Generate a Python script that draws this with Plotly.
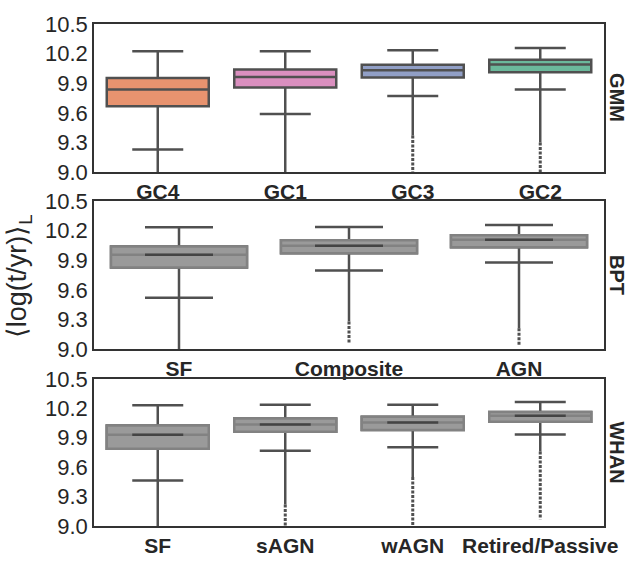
import plotly.graph_objects as go

# ---------------- data ----------------
gmm_cats = ["GC4", "GC1", "GC3", "GC2"]
gmm_colors = ["#E8936F", "#DA8FBF", "#919FC6", "#6BB89B"]
gmm_lowf = [9.228, 9.589, 9.771, 9.836]
gmm_q1 = [9.667, 9.856, 9.957, 10.012]
gmm_med = [9.836, 9.963, 10.031, 10.090]
gmm_q3 = [9.953, 10.038, 10.087, 10.139]
gmm_upf = [10.223, 10.223, 10.233, 10.256]
gmm_dense_min = [9.0, 9.0, 9.37, 9.30]
gmm_sparse_min = [9.0, 9.0, 9.0, 9.0]

bpt_cats = ["SF", "Composite", "AGN"]
bpt_lowf = [9.519, 9.795, 9.877]
bpt_q1 = [9.825, 9.971, 10.032]
bpt_med = [9.955, 10.045, 10.107]
bpt_q3 = [10.039, 10.101, 10.153]
bpt_upf = [10.234, 10.237, 10.256]
bpt_dense_min = [9.0, 9.28, 9.21]
bpt_sparse_min = [9.0, 9.05, 9.04]

whan_cats = ["SF", "sAGN", "wAGN", "Retired/Passive"]
whan_lowf = [9.463, 9.768, 9.804, 9.932]
whan_q1 = [9.788, 9.962, 9.978, 10.063]
whan_med = [9.929, 10.034, 10.054, 10.123]
whan_q3 = [10.024, 10.096, 10.113, 10.162]
whan_upf = [10.231, 10.237, 10.237, 10.264]
whan_dense_min = [9.0, 9.22, 9.50, 9.76]
whan_sparse_min = [9.0, 9.0, 9.0, 9.07]

y_ticks = [9.0, 9.3, 9.6, 9.9, 10.2, 10.5]
panel_labels = ["GMM", "BPT", "WHAN"]

# ---------------- styling ----------------
LINE = "#505050"
GRAY_FILL = "#9a9a9a"
GRAY_EDGE = "#828282"
TXT = "#262626"
FONT = "Liberation Sans, Arial, sans-serif"

fig = go.Figure()


def add_fliers(n, lowf, dmin, smin, xa, ya):
    for i in range(n):
        fig.add_trace(go.Scatter(x=[i, i], y=[lowf[i], dmin[i]], mode="lines",
                                 line=dict(color=LINE, width=2.5), xaxis=xa, yaxis=ya,
                                 showlegend=False, hoverinfo="skip"))
        if smin[i] < dmin[i]:
            fig.add_trace(go.Scatter(x=[i, i], y=[dmin[i], smin[i]], mode="lines",
                                     line=dict(color=LINE, width=3, dash="3px,1.5px"),
                                     xaxis=xa, yaxis=ya, showlegend=False,
                                     hoverinfo="skip"))


# GMM panel (colored)
add_fliers(len(gmm_cats), gmm_lowf, gmm_dense_min, gmm_sparse_min, "x", "y")
for i in range(len(gmm_cats)):
    fig.add_trace(go.Box(x=[i], q1=[gmm_q1[i]], median=[gmm_med[i]], q3=[gmm_q3[i]],
                         lowerfence=[gmm_lowf[i]], upperfence=[gmm_upf[i]],
                         width=0.8, whiskerwidth=0.5, fillcolor=gmm_colors[i],
                         line=dict(color=LINE, width=2.5), boxpoints=False,
                         xaxis="x", yaxis="y", showlegend=False, hoverinfo="skip"))


def gray_panel(cats, lowf, q1, med, q3, upf, dmin, smin, xa, ya):
    n = len(cats)
    add_fliers(n, lowf, dmin, smin, xa, ya)
    for i in range(n):
        fig.add_trace(go.Box(x=[i], q1=[q1[i]], median=[med[i]], q3=[q3[i]],
                             lowerfence=[lowf[i]], upperfence=[upf[i]],
                             width=0.8, whiskerwidth=0.5, fillcolor=GRAY_FILL,
                             line=dict(color=LINE, width=2.5), boxpoints=False,
                             xaxis=xa, yaxis=ya, showlegend=False, hoverinfo="skip"))
        # lighter box edge on top (no whiskers)
        fig.add_trace(go.Box(x=[i], q1=[q1[i]], median=[med[i]], q3=[q3[i]],
                             lowerfence=[q1[i]], upperfence=[q3[i]],
                             width=0.8, whiskerwidth=0, fillcolor=GRAY_FILL,
                             line=dict(color=GRAY_EDGE, width=2.5), boxpoints=False,
                             xaxis=xa, yaxis=ya, showlegend=False, hoverinfo="skip"))
        fig.add_trace(go.Scatter(x=[i - 0.2, i + 0.2], y=[med[i], med[i]], mode="lines",
                                 line=dict(color="#444444", width=2.5),
                                 xaxis=xa, yaxis=ya, showlegend=False,
                                 hoverinfo="skip"))


gray_panel(bpt_cats, bpt_lowf, bpt_q1, bpt_med, bpt_q3, bpt_upf,
           bpt_dense_min, bpt_sparse_min, "x2", "y2")
gray_panel(whan_cats, whan_lowf, whan_q1, whan_med, whan_q3, whan_upf,
           whan_dense_min, whan_sparse_min, "x3", "y3")

# ---------------- layout ----------------
W, H = 630, 569
ml, mr, mt, mb = 94, 24, 14, 33
pw = W - ml - mr
ph = H - mt - mb


def dom(top_px, bot_px):
    return [(H - mb - bot_px) / ph, (H - mb - top_px) / ph]


def xax(cats, anchor):
    return dict(range=[-0.5, len(cats) - 0.5], tickvals=list(range(len(cats))),
                ticktext=[f"<b>{c}</b>" for c in cats], showline=True, mirror=True,
                linecolor="#333333", linewidth=1.5, showgrid=False, zeroline=False,
                ticks="", tickfont=dict(size=21, color=TXT, family=FONT),
                anchor=anchor, domain=[0, 1], fixedrange=True)


def yax(d, anchor):
    return dict(range=[9.0, 10.5], tickvals=y_ticks,
                ticktext=[f"{v:.1f}" for v in y_ticks], showline=True, mirror=True,
                linecolor="#333333", linewidth=1.5, showgrid=False, zeroline=False,
                ticks="", tickfont=dict(size=22, color=TXT, family=FONT),
                anchor=anchor, domain=d, fixedrange=True)


fig.update_layout(
    width=W, height=H,
    margin=dict(l=ml, r=mr, t=mt, b=mb, pad=0),
    paper_bgcolor="white", plot_bgcolor="white",
    boxmode="overlay", showlegend=False, hovermode=False,
    font=dict(family=FONT, color=TXT),
    xaxis=xax(gmm_cats, "y"), yaxis=yax(dom(14, 168), "x"),
    xaxis2=xax(bpt_cats, "y2"), yaxis2=yax(dom(198, 352), "x2"),
    xaxis3=xax(whan_cats, "y3"), yaxis3=yax(dom(383, 536), "x3"),
)

centers = [(14 + 168) / 2, (198 + 352) / 2, (383 + 536) / 2]
for lab, cy in zip(panel_labels, centers):
    fig.add_annotation(text=f"<b>{lab}</b>", xref="paper", yref="paper",
                       x=(619 - ml) / pw, y=(H - mb - cy) / ph,
                       showarrow=False, textangle=90,
                       font=dict(size=20, color=TXT, family=FONT),
                       xanchor="center", yanchor="middle")

fig.add_annotation(text="⟨log(t/yr)⟩<sub>L</sub>", xref="paper", yref="paper",
                   x=(19 - ml) / pw, y=(H - mb - 276) / ph,
                   showarrow=False, textangle=-90,
                   font=dict(size=27, color=TXT, family=FONT),
                   xanchor="center", yanchor="middle")

fig.write_html("out.html",
               config={"displayModeBar": False},
               post_script="document.body.style.margin='0';"
                           "document.body.style.overflow='hidden';")
